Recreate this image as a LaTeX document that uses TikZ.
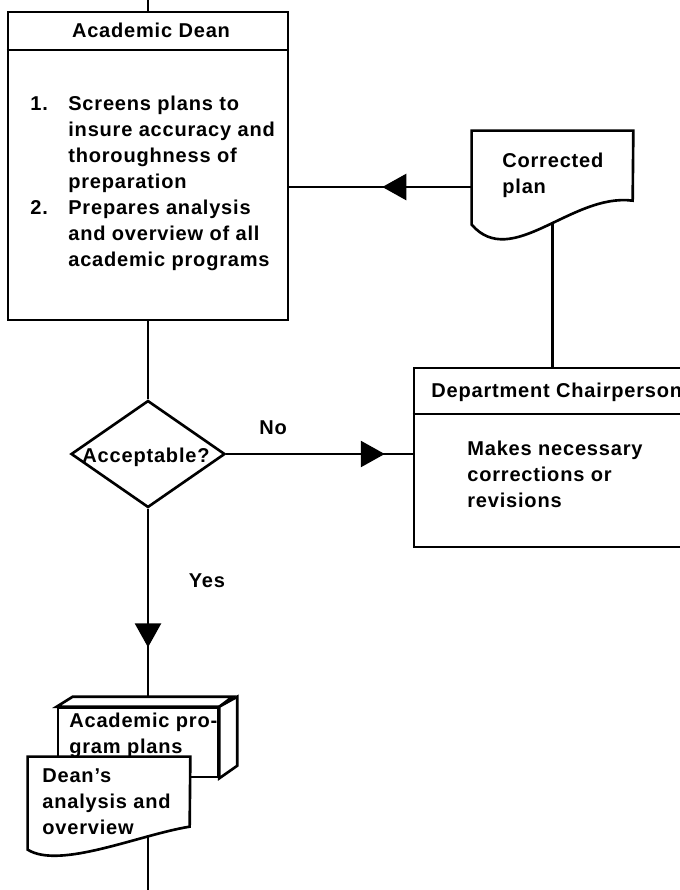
\documentclass[tikz,border=0pt]{standalone}
\usepackage{fontspec}
\setmainfont{Liberation Sans}[LetterSpace=4]
\usetikzlibrary{shapes.geometric,arrows.meta,decorations.markings,calc}
\newcommand{\stack}[1]{\begin{tabular}[t]{@{}l@{}}#1\end{tabular}}

\begin{document}
\begin{tikzpicture}[x=0.02cm,y=-0.02cm,
  line/.style={line width=1.5pt},
  box/.style={draw,line width=1.5pt,inner sep=0pt},
  frame/.style={inner sep=0pt},
  txt/.style={font=\fontsize{11.4}{14.8}\selectfont\bfseries,inner sep=0pt,anchor=base west},
  decision/.style={draw,diamond,line width=1.5pt,inner sep=0pt,minimum width=3.08cm,minimum height=2.14cm},
  flow/.style={line,postaction={decorate},decoration={markings,mark=at position #1 with {\arrow{Triangle[length=0.48cm,width=0.52cm]}}}}]
\useasboundingbox (0,0) rectangle (680,890);
\clip (0,0) rectangle (680,890);

\node[box,minimum width=5.6cm,minimum height=6.16cm] (dean) at (148,166) {};
\coordinate (deansplit) at (148,50);
\draw[line] (dean.west |- deansplit) -- (dean.east |- deansplit);
\node[decision] (acc) at (148,454) {};
\node[box,minimum width=6cm,minimum height=3.58cm] (dept) at (564,457.5) {};
\coordinate (deptsplit) at (564,414);
\draw[line] (dept.west |- deptsplit) -- (dept.east |- deptsplit);
\node[frame,minimum width=3.22cm,minimum height=2.24cm] (corr) at (552.5,187) {};
\node[box,fill=white,minimum width=3.2cm,minimum height=1.38cm] (plans) at (138,742.5) {};
\node[frame,minimum width=3.24cm,minimum height=2.02cm] (analysis) at (109,807.5) {};
\coordinate (top) at (148,0);
\coordinate (bottom) at (148,890);

\draw[line] (top) -- (dean.north);
\draw[line] (dean.south) -- (acc.north);
\draw[flow=0.85] (acc.east) -- (acc.east -| dept.west);
\draw[flow=0.49] (corr.west) -- (corr.west -| dean.east);
\draw[line] (corr.center) -- (corr.center |- dept.north);
\draw[flow=0.70] (acc.south) -- (acc.south |- plans.north);
\draw[line] (bottom |- analysis.center) -- (bottom);

\draw[line,fill=white] ($(corr.north west)+(0,94)$) -- (corr.north west) -- (corr.north east) -- ($(corr.north west)+(161,70)$)
  .. controls ($(corr.north west)+(100,62)$) and ($(corr.north west)+(40,140)$) .. ($(corr.north west)+(0,94)$) -- cycle;
\draw[line,fill=white] (plans.north west) -- ++(16,-10) -- ++(160,0) -- (plans.north east) -- cycle;
\draw[line,fill=white] (plans.north east) -- ++(18,-10) -- ++(0,69) -- (plans.south east) -- cycle;
\draw[line,fill=white] ($(analysis.north west)+(0,93)$) -- (analysis.north west) -- (analysis.north east) -- ($(analysis.north west)+(162,70)$)
  .. controls ($(analysis.north west)+(112,78)$) and ($(analysis.north west)+(32,113)$) .. ($(analysis.north west)+(0,93)$) -- cycle;

\node[txt,anchor=base] (deantitle) at (151,37) {Academic Dean};
\node[txt] (deantext) at (30,110) {\begin{tabular}[t]{@{}p{0.76cm}@{}l@{}}
1. & Screens plans to\\ & insure accuracy and\\ & thoroughness of\\ & preparation\\
2. & Prepares analysis\\ & and overview of all\\ & academic programs\end{tabular}};
\node[txt] (corrtext) at (502,167) {\stack{Corrected\\plan}};
\node[txt] (depttitle) at (431,397) {Department Chairperson};
\node[txt] (depttext) at (467,455) {\stack{Makes necessary\\corrections or\\revisions}};
\node[txt,anchor=base] (acctext) at (146,462) {Acceptable?};
\node[txt,anchor=base] (nolabel) at (273,434) {No};
\node[txt,anchor=base] (yeslabel) at (207,587) {Yes};
\node[txt] (planstext) at (69,727) {\stack{Academic pro-\\gram plans}};
\node[txt] (analysistext) at (42,782) {\stack{Dean's\\analysis and\\overview}};
\end{tikzpicture}
\end{document}
